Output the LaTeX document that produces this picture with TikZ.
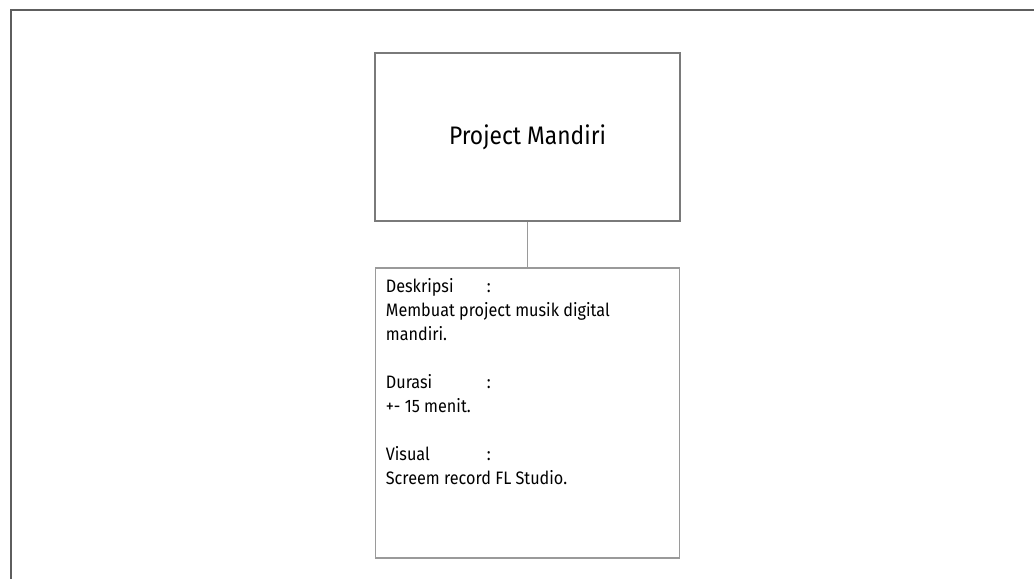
\documentclass[tikz,border=0pt]{standalone}
\usepackage{fontspec}
\setmainfont{Fira Sans}[FakeStretch=0.9]
\usetikzlibrary{positioning}
\definecolor{FrameGray}{HTML}{5E5E5E}
\definecolor{BoxGray}{HTML}{7A7A7A}
\definecolor{NoteGray}{HTML}{9A9A9A}
\tikzset{frameline/.style={draw=FrameGray, line width=2.2pt},
  titlebox/.style={draw=BoxGray, line width=1.3pt, rectangle, minimum width=228.75pt, minimum height=126pt, font=\fontsize{19pt}{22pt}\selectfont},
  notebox/.style={draw=NoteGray, line width=1.3pt, rectangle, minimum width=228pt, minimum height=217.5pt},
  notetext/.style={inner sep=0pt, align=left, anchor=north west, font=\fontsize{13.5pt}{18pt}\selectfont}}
\newcommand{\fieldname}[1]{\makebox[75.75pt][l]{#1}:}

\begin{document}
\begin{tikzpicture}[x=0.75pt,y=-0.75pt]
    \useasboundingbox (0,0) rectangle (1034,579);
    \draw[frameline] (1034,10) -- (11,10) -- (11,579);
    \node[titlebox] (project) at (527.5,137) {Project Mandiri};
    \node[notebox, below=33.75pt of project] (desc) {};
    \node[notetext] (desctext) at ([xshift=8.25pt,yshift=-8.3pt]desc.north west)
        {\fieldname{Deskripsi}\\
         Membuat project musik digital\\
         mandiri.\\[18pt]
         \fieldname{Durasi}\\
         +- 15 menit.\\[18pt]
         \fieldname{Visual}\\
         Screem record FL Studio.};
    \draw[draw=NoteGray, line width=1.3pt] (project) -- (desc);
\end{tikzpicture}
\end{document}
